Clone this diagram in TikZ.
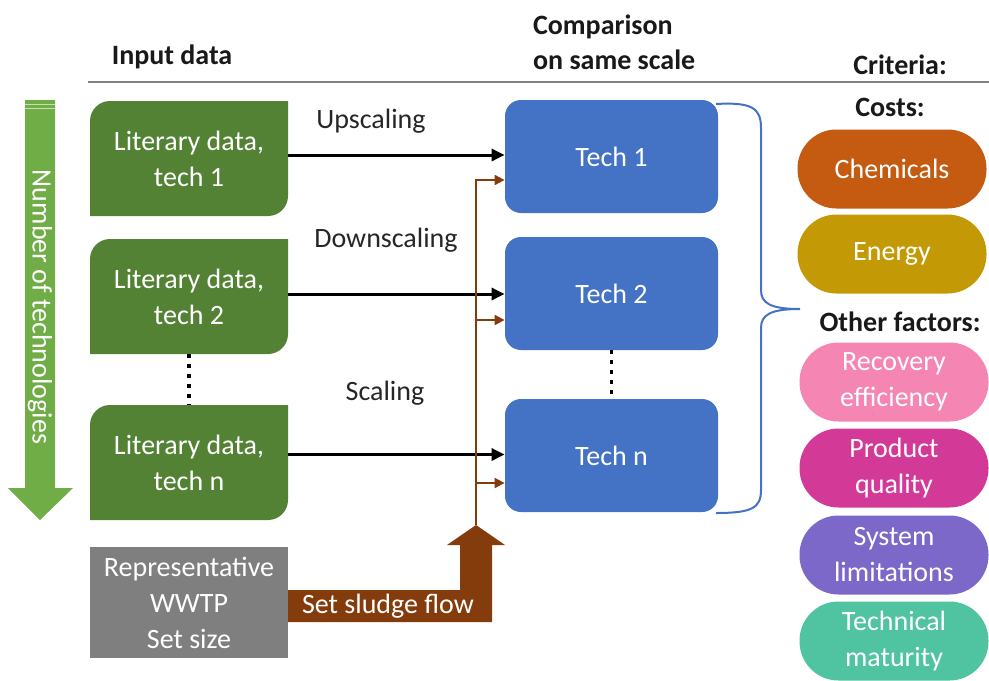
\documentclass[tikz,border=0pt]{standalone}
\usepackage{fontspec}
\setmainfont{Carlito}
\usetikzlibrary{arrows.meta}
\definecolor{leafgreen}{HTML}{548235}
\definecolor{arrowgreen}{HTML}{70AD47}
\definecolor{techblue}{HTML}{4472C4}
\definecolor{wwtpgray}{HTML}{7F7F7F}
\definecolor{sludge}{HTML}{843C0C}
\definecolor{chemorange}{HTML}{C55A11}
\definecolor{energygold}{HTML}{C39A05}
\definecolor{recoverypink}{HTML}{F585B3}
\definecolor{qualitymagenta}{HTML}{D33A98}
\definecolor{limitpurple}{HTML}{7B68C8}
\definecolor{maturityteal}{HTML}{50C3A0}
\tikzset{
    box/.style={minimum width=99pt, minimum height=57.5pt, inner sep=4pt,
                align=center, text=white},
    litbox/.style={box, fill=white, path picture={
        \fill[leafgreen] (path picture bounding box.south west)
            -- ([yshift=-10pt]path picture bounding box.north west)
            arc[start angle=180, end angle=90, radius=10pt]
            -- (path picture bounding box.north east)
            -- ([yshift=10pt]path picture bounding box.south east)
            arc[start angle=0, end angle=-90, radius=10pt] -- cycle;}},
    techbox/.style={box, fill=techblue, rounded corners=8pt,
                    minimum width=106.5pt, minimum height=56.5pt},
    pill/.style={minimum width=94.5pt, minimum height=39.5pt, inner sep=2pt,
                 rounded corners=19.5pt, text=white, align=center},
    flow/.style={-{Triangle[length=6.5pt, width=6pt]}, line width=1.5pt},
    feed/.style={-{Triangle[length=5pt, width=5pt]}, line width=1pt, draw=sludge},
    dots/.style={line width=1.6pt, dash pattern=on 1.6pt off 3.4pt},
    heading/.style={font=\fontsize{14}{17.5}\selectfont\bfseries, text=black!90},
    caption/.style={text=black!85},
}

\begin{document}
\begin{tikzpicture}[x=0.5pt, y=-0.5pt, font=\fontsize{14}{18}\selectfont]
    \useasboundingbox (0,0) rectangle (989,680);

    % headings
    \node[heading] (inputhead) at (172,57) {Input data};
    \node[heading, align=left, anchor=west] (comparehead) at (526,42) {Comparison\\on same scale};
    \node[heading] (criteriahead) at (900,65) {Criteria:};
    \draw[wwtpgray, line width=1pt] (88,82) -- (989,82);

    % number of technologies
    \fill[arrowgreen] (25,100) -- (55,100) -- (55,488) -- (73,488)
        -- (40,520) -- (8,488) -- (25,488) -- cycle;
    \draw[white, opacity=0.6, line width=0.5pt] (25,104) -- (55,104) (25,108) -- (55,108);
    \node[rotate=-90, text=white] (countlabel) at (40,307) {Number of technologies};

    % input data and technologies
    \foreach \i/\y/\n in {1/158.5/1,2/296.5/2,3/462.5/n} {
        \node[litbox] (lit\i) at (189,\y) {Literary data,\\tech \n};
    }
    \foreach \i/\y/\n in {1/156.5/1,2/293.5/2,3/455.5/n} {
        \node[techbox] (tech\i) at (611.5,\y) {Tech \n};
    }
    \draw[dots] (lit2.south) -- (lit3.north);
    \draw[dots] (tech2.south) -- (tech3.north);
    \foreach \i/\s in {1/1.75pt,2/1.25pt,3/4pt} {
        \draw[flow] ([yshift=\s]lit\i.east) -- ([yshift=\s]lit\i.east -| tech\i.west);
    }
    \node[caption] (upscale) at (371,121) {Upscaling};
    \node[caption] (downscale) at (386,240) {Downscaling};
    \node[caption] (scale) at (385,393) {Scaling};

    % representative plant and sludge flow
    \node[box, fill=wwtpgray, minimum height=55.5pt] (wwtp) at (189,602.5)
        {Representative\\WWTP\\Set size};
    \fill[sludge] (288,590) -- (460,590) -- (460,545) -- (447,545) -- (476,525)
        -- (505,545) -- (492,545) -- (492,622) -- (288,622) -- cycle;
    \node[text=white] (sludgelabel) at (388,606) {Set sludge flow};
    \coordinate (sludgetip) at (476,525);
    \coordinate (branch1) at (476,180);
    \coordinate (branch2) at (476,320);
    \coordinate (branch3) at (476,483);
    \draw[feed] (sludgetip) |- (branch1 -| tech1.west);
    \draw[feed] (branch2) -- (branch2 -| tech2.west);
    \draw[feed] (branch3) -- (branch3 -| tech3.west);

    % brace
    \draw[techblue, line width=1pt] (716,104) .. controls (752,102) and (761,108) .. (761,128)
        -- (761,290) .. controls (761,303) and (770,309) .. (800,309)
        .. controls (770,309) and (761,315) .. (761,328)
        -- (761,490) .. controls (761,508) and (752,513) .. (716,513);

    % criteria
    \node[heading] (costhead) at (890,107) {Costs:};
    \node[pill, fill=chemorange] (chem) at (892,169) {Chemicals};
    \node[pill, fill=energygold] (energy) at (892,254) {Energy};
    \node[heading] (otherhead) at (900,322) {Other factors:};
    \node[pill, fill=recoverypink] (recovery) at (894,382) {Recovery\\efficiency};
    \node[pill, fill=qualitymagenta] (quality) at (894,468) {Product\\quality};
    \node[pill, fill=limitpurple] (limits) at (894,555) {System\\limitations};
    \node[pill, fill=maturityteal] (maturity) at (894,641) {Technical\\maturity};
\end{tikzpicture}
\end{document}
